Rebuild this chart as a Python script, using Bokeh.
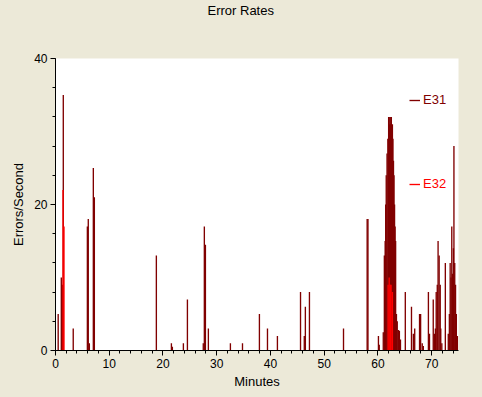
from bokeh.plotting import figure
from bokeh.models import (Range1d, FixedTicker, Legend, LegendItem, ColumnDataSource,
                          Title, LinearAxis)
from bokeh.embed import file_html
from bokeh.resources import INLINE

# ---- data ----
e31_minutes = [0.5, 1.08, 1.27, 1.45, 3.3, 5.93, 6.1, 6.3, 7.04, 7.23,
               18.77, 21.57, 21.75, 23.8, 24.55, 27.5, 27.7, 27.9, 28.45,
               32.55, 34.8, 37.95, 39.45, 41.3, 45.6, 46.3, 46.5, 47.26,
               53.6, 58.0, 58.15, 60.1, 60.25,
               61.0, 61.2, 61.35, 61.45, 61.55, 61.7, 61.85, 62.0, 62.1, 62.2,
               62.3, 62.4, 62.5, 62.6, 62.7, 62.8, 62.9, 63.0, 63.1, 63.2, 63.3,
               63.45, 63.6, 63.8, 64.0, 64.2,
               65.1, 66.25, 66.6, 66.85, 67.75, 67.95, 68.25, 68.45,
               69.4, 69.6, 70.3, 70.5, 70.7, 70.85, 71.05, 71.2, 71.4, 71.6,
               71.7, 71.9, 72.55, 73.1, 73.3, 73.45, 73.6, 73.75, 73.9, 74.05,
               74.15, 74.3, 74.45, 74.6, 74.8]
e31_values = [5, 10, 9, 35, 3, 17, 18, 1, 25, 21,
              13, 1, 0.5, 1, 7, 1, 17, 14.5, 3,
              1, 1, 5, 3, 2, 8, 2, 6, 8,
              3, 18, 18, 2, 0.8,
              2.5, 13, 15, 20, 24, 27, 29, 32, 32, 31,
              32, 31, 32, 30, 31, 29, 26, 24, 20, 17, 15,
              5, 4, 2.8, 2.7, 1.5,
              8, 6, 2.3, 3, 5, 5, 1, 0.6,
              8, 2.3, 7, 2.3, 3, 8, 9, 15, 13, 9,
              3, 1, 12, 2.3, 5, 12, 10, 17, 10.5, 14,
              28, 12, 9, 5, 2]

e32_minutes = [1.4, 1.58, 61.9, 62.1, 62.3, 62.45, 62.7]
e32_values = [22, 17, 9, 10, 9, 9, 8]

x_major = [0, 10, 20, 30, 40, 50, 60, 70]
x_minor = list(range(0, 76, 2))
y_major = [0, 20, 40]
y_minor = list(range(0, 41, 4))

DARK = "#800000"
RED = "#FF0000"
BEIGE = "#ECE9D8"
FONT = "Liberation Sans"

p = figure(width=482, height=397, x_range=Range1d(0, 75), y_range=Range1d(0, 40),
           output_backend="svg", toolbar_location=None,
           min_border_left=55, min_border_right=24, min_border_top=58, min_border_bottom=47,
           background_fill_color="white", border_fill_color=BEIGE,
           outline_line_color=None)
p.title.visible = False
p.xgrid.visible = False
p.ygrid.visible = False

xax = p.below[0]
yax = p.left[0]
for ax, major, minor in ((xax, x_major, x_minor), (yax, y_major, y_minor)):
    ax.ticker = FixedTicker(ticks=major, minor_ticks=minor)
    ax.axis_line_color = "black"
    ax.major_tick_line_color = "black"
    ax.minor_tick_line_color = "black"
    ax.major_tick_in = 0
    ax.major_tick_out = 5
    ax.minor_tick_in = 0
    ax.minor_tick_out = 3
    ax.major_label_text_font = FONT
    ax.major_label_text_font_size = "12px"
    ax.major_label_text_color = "black"
    ax.axis_label_text_font = FONT
    ax.axis_label_text_font_size = "13px"
    ax.axis_label_text_font_style = "normal"
    ax.axis_label_text_color = "black"
    ax.major_label_standoff = 3

xax.axis_label = "Minutes"
yax.axis_label = "Errors/Second"
xax.axis_label_standoff = 3
yax.axis_label_standoff = 5

# invisible top axis used only as vertical spacing between the frame and the title
spacer = LinearAxis(ticker=FixedTicker(ticks=[37.5], minor_ticks=[]),
                    major_tick_out=38, major_tick_in=0, minor_tick_out=0, minor_tick_in=0,
                    axis_line_color=None, major_tick_line_color=None,
                    minor_tick_line_color=None, major_label_standoff=0,
                    major_label_text_font_size="0px", major_label_text_alpha=0,
                    major_label_overrides={37.5: ""})
p.add_layout(spacer, "above")

title = Title(text="Error Rates", text_font=FONT, text_font_size="13px",
              text_font_style="normal", text_color="black", align="left", offset=152,
              vertical_align="top", standoff=2)
p.add_layout(title, "above")

s31 = ColumnDataSource(dict(x=e31_minutes, y=e31_values, z=[0] * len(e31_values)))
s32 = ColumnDataSource(dict(x=e32_minutes, y=e32_values, z=[0] * len(e32_values)))
r31 = p.segment(x0="x", y0="z", x1="x", y1="y", source=s31, line_color=DARK, line_width=1.35)
r32 = p.segment(x0="x", y0="z", x1="x", y1="y", source=s32, line_color=RED, line_width=1.35)

for label, rend, col, loc in (("E31", r31, DARK, (354, 243)), ("E32", r32, RED, (354, 159))):
    lg = Legend(items=[LegendItem(label=label, renderers=[rend])], location=loc,
                padding=0, margin=0, border_line_color=None, background_fill_alpha=0,
                glyph_width=11, glyph_height=14, label_height=14, label_standoff=3,
                label_text_font=FONT, label_text_font_size="13px", label_text_color=col)
    p.add_layout(lg)

html = file_html(p, INLINE)
html = html.replace("</head>", "<style>html,body{margin:0;padding:0;background:#ECE9D8;overflow:hidden;}</style></head>", 1)
open("out.html", "w").write(html)
